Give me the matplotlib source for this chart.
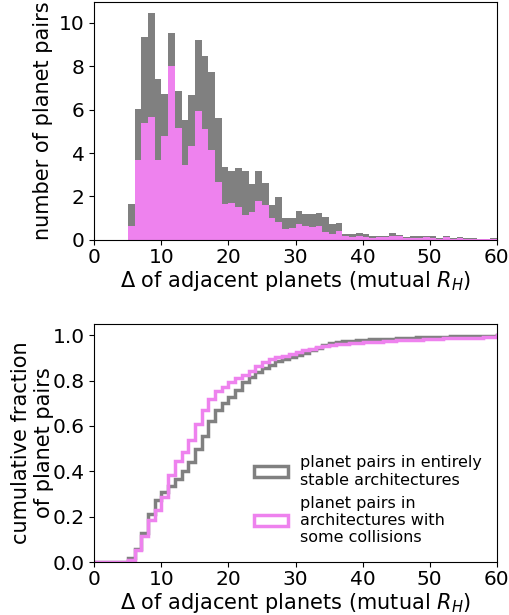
import numpy as np
import matplotlib
matplotlib.use("Agg")
import matplotlib.pyplot as plt
from matplotlib.patches import Patch

# bin edges (width 1) in mutual Hill radii
BIN_EDGES = np.arange(0, 61, 1)

# planet pairs in architectures with some collisions, per bin (0..59)
COLLISIONS = [
    0, 0, 0, 0, 0, 0.64, 3.68, 5.38, 5.66, 3.68,
    4.79, 8.00, 5.15, 3.45, 4.33, 5.94, 5.11, 4.14, 2.67, 1.66,
    1.70, 1.52, 1.15, 1.29, 1.79, 1.62, 1.01, 0.83, 0.51, 0.55,
    0.74, 0.64, 0.60, 0.64, 0.37, 0.28, 0.41, 0.18, 0.14, 0.18,
    0.14, 0.09, 0.14, 0.14, 0.18, 0.18, 0.09, 0.09, 0.09, 0.14,
    0.09, 0.05, 0.14, 0.05, 0.09, 0.05, 0.05, 0.05, 0.05, 0.05,
]

# planet pairs in entirely stable architectures, per bin (0..59)
STABLE = [
    0, 0, 0, 0, 0, 1.02, 2.35, 3.96, 4.78, 3.73,
    1.93, 1.52, 1.71, 2.07, 2.34, 3.26, 3.36, 3.59, 2.94, 1.71,
    1.47, 1.79, 2.02, 1.28, 1.38, 1.00, 0.61, 1.15, 0.50, 0.46,
    0.59, 0.56, 0.60, 0.60, 0.69, 0.46, 0.37, 0.10, 0.14, 0.14,
    0.14, 0.09, 0.04, 0.04, 0.14, 0.05, 0.05, 0.09, 0.09, 0.04,
    0.09, 0.04, 0.04, 0.04, 0.05, 0.04, 0.04, 0.00, 0.00, 0.04,
]

# pairs beyond 60 R_H (off the plotted range)
OVERFLOW_COLLISIONS = 0.8
OVERFLOW_STABLE = 0.15

XLABEL = r"$\Delta$ of adjacent planets (mutual $R_H$)"
LABELS = ["planet pairs in entirely\nstable architectures",
          "planet pairs in\narchitectures with\nsome collisions"]

plt.rcParams["font.size"] = 15
plt.rcParams["xtick.labelsize"] = 14.5
plt.rcParams["ytick.labelsize"] = 14.5
plt.rcParams["xtick.major.pad"] = 2.5

centers = BIN_EDGES[:-1] + 0.5
fig = plt.figure(figsize=(5.1, 6.15), dpi=100)

# top: stacked histogram
ax1 = fig.add_axes([0.185, 0.61, 0.789, 0.387])
ax1.hist([centers, centers], bins=BIN_EDGES,
         weights=[COLLISIONS, STABLE], stacked=True,
         color=["violet", "gray"])
ax1.set_xlim(0, 60)
ax1.set_yticks(np.arange(0, 11, 2))
ax1.set_xlabel(XLABEL, labelpad=1)
ax1.set_ylabel("number of planet pairs")

# bottom: cumulative step histograms (incl. overflow bin)
ext_edges = np.append(BIN_EDGES, 100)
ext_centers = np.append(centers, 80)
ax2 = fig.add_axes([0.185, 0.086, 0.789, 0.3875])
ax2.hist(ext_centers, bins=ext_edges,
         weights=np.append(STABLE, OVERFLOW_STABLE),
         cumulative=True, density=True, histtype="step",
         color="gray", linewidth=2.5)
ax2.hist(ext_centers, bins=ext_edges,
         weights=np.append(COLLISIONS, OVERFLOW_COLLISIONS),
         cumulative=True, density=True, histtype="step",
         color="violet", linewidth=2.5)
ax2.set_xlim(0, 60)
ax2.set_ylim(0, 1.05)
ax2.set_yticks(np.arange(0, 1.01, 0.2))
ax2.set_yticklabels([f"{v:.1f}" for v in np.arange(0, 1.01, 0.2)])
ax2.set_xlabel(XLABEL, labelpad=1)
ax2.set_ylabel("cumulative fraction\nof planet pairs", labelpad=-1)

handles = [Patch(facecolor="none", edgecolor="gray", linewidth=2.5),
           Patch(facecolor="none", edgecolor="violet", linewidth=2.5)]
ax2.legend(handles, LABELS, loc="lower right", frameon=False,
           fontsize=11.5, handlelength=2.1, bbox_to_anchor=(1.0, 0.01))

plt.savefig("out.png")
